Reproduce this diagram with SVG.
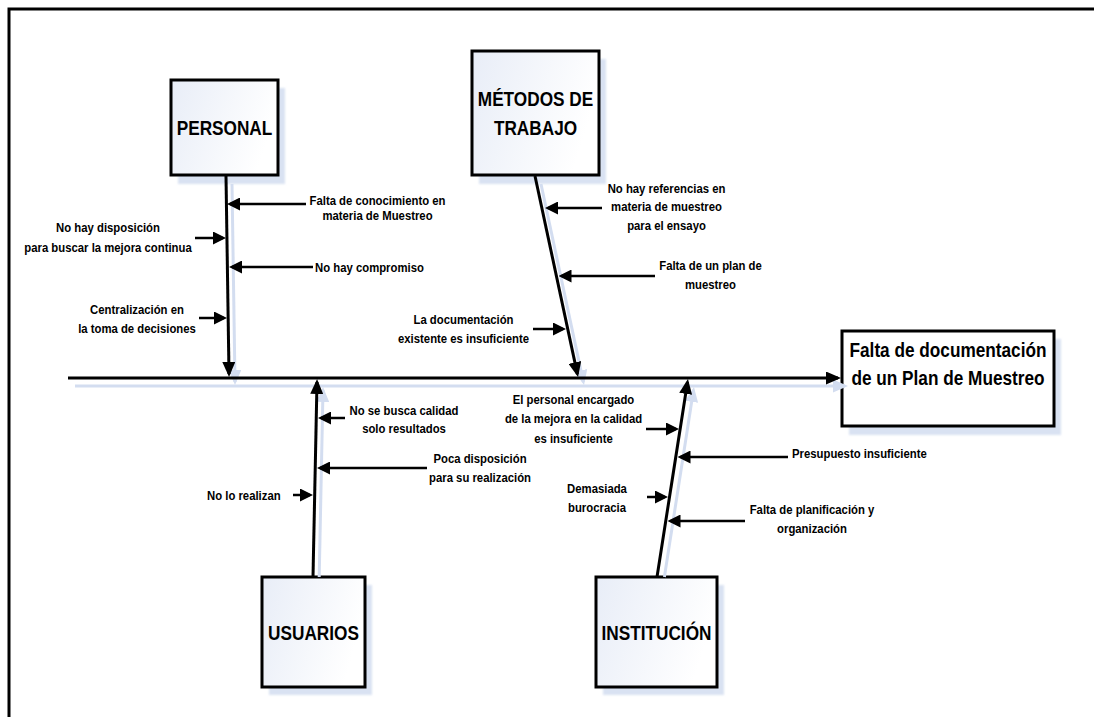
<svg xmlns="http://www.w3.org/2000/svg" width="1094" height="717" viewBox="0 0 1094 717">
  <defs>
    <style>
      .frame { fill: none; stroke: #000; stroke-width: 3; }
      .box { fill: url(#boxFill); stroke: #000; stroke-width: 3; }
      .boxw { fill: #fff; stroke: #000; stroke-width: 3; }
      .shadow { fill: #d9e2f2; filter: url(#soft); }
      .bone { fill: none; stroke: #000; stroke-width: 3; marker-end: url(#headBig); }
      .bone-sh { fill: none; stroke: #d3ddf0; stroke-width: 3; marker-end: url(#headBigSh); }
      .cause { fill: none; stroke: #000; stroke-width: 2.5; marker-end: url(#head); }
      .lbl { font-family: "Liberation Sans", Arial, sans-serif; font-weight: bold; font-size: 13.5px; fill: #000; }
      .ttl { font-family: "Liberation Sans", Arial, sans-serif; font-weight: bold; font-size: 21px; fill: #000; text-anchor: middle; }
      .mid { text-anchor: middle; }
    </style>
    <linearGradient id="boxFill" x1="0" y1="0" x2="1" y2="0.3">
      <stop offset="0" stop-color="#e8edf7"/>
      <stop offset="1" stop-color="#ffffff"/>
    </linearGradient>
    <filter id="soft" x="-10%" y="-10%" width="120%" height="120%">
      <feGaussianBlur stdDeviation="0.8"/>
    </filter>
    <marker id="head" viewBox="0 0 13 13" markerUnits="userSpaceOnUse" markerWidth="13" markerHeight="13" refX="10" refY="6.5" orient="auto">
      <path d="M0,0 L13,6.5 L0,13 z" fill="#000"/>
    </marker>
    <marker id="headBig" viewBox="0 0 15 13" markerUnits="userSpaceOnUse" markerWidth="15" markerHeight="13" refX="12" refY="6.5" orient="auto">
      <path d="M0,0 L15,6.5 L0,13 z" fill="#000"/>
    </marker>
    <marker id="headBigSh" viewBox="0 0 15 13" markerUnits="userSpaceOnUse" markerWidth="15" markerHeight="13" refX="12" refY="6.5" orient="auto">
      <path d="M0,0 L15,6.5 L0,13 z" fill="#d3ddf0"/>
    </marker>
  </defs>

  <rect width="1094" height="717" fill="#fff"/>

  <!-- page frame: top and left edges only -->
  <path class="frame" d="M9,717 V9 H1094"/>

  <!-- category and effect boxes -->
  <g id="personal">
    <rect class="shadow" x="178" y="88" width="107" height="96"/>
    <rect class="box" x="171" y="80" width="107" height="95"/>
    <text class="ttl" transform="translate(224.5,135) scale(0.82,1)">PERSONAL</text>
  </g>

  <g id="metodos">
    <rect class="shadow" x="479" y="59" width="127" height="125"/>
    <rect class="box" x="472" y="51" width="127" height="124"/>
    <text class="ttl" transform="translate(535.5,106) scale(0.82,1)"><tspan x="0">MÉTODOS DE</tspan><tspan x="0" dy="29">TRABAJO</tspan></text>
  </g>

  <g id="usuarios">
    <rect class="shadow" x="269" y="585" width="103" height="110"/>
    <rect class="box" x="262" y="577" width="103" height="110"/>
    <text class="ttl" transform="translate(313.5,640) scale(0.82,1)">USUARIOS</text>
  </g>

  <g id="institucion">
    <rect class="shadow" x="603" y="585" width="121" height="110"/>
    <rect class="box" x="596" y="577" width="121" height="110"/>
    <text class="ttl" transform="translate(656.5,640) scale(0.82,1)">INSTITUCIÓN</text>
  </g>

  <g id="efecto">
    <rect class="shadow" x="849" y="339" width="212" height="96"/>
    <rect class="boxw" x="842" y="331" width="212" height="95"/>
    <text class="ttl" transform="translate(948,357) scale(0.82,1)"><tspan x="0">Falta de documentación</tspan><tspan x="0" dy="28">de un Plan de Muestreo</tspan></text>
  </g>

  <!-- spine, main bones and cause arrows -->
  <g id="connectors">
    <!-- soft offset copies of the spine and bones -->
    <path class="bone-sh" d="M75,386 H845"/>
    <path class="bone-sh" d="M232,184 L235,382"/>
    <path class="bone-sh" d="M541,184 L583.4,382.1"/>
    <path class="bone-sh" d="M319.2,577 L323,390"/>
    <path class="bone-sh" d="M664.4,577 L693.5,390"/>

    <!-- spine -->
    <path class="bone" d="M68,378 H838"/>
    <!-- bones -->
    <path class="bone" d="M226,176 L229,374"/>
    <path class="bone" d="M535,176 L577.4,374.1"/>
    <path class="bone" d="M313,577 L317,382"/>
    <path class="bone" d="M657,577 L687.5,382"/>

    <!-- causes: personal -->
    <path class="cause" d="M306,204 H230"/>
    <path class="cause" d="M195,238 H223"/>
    <path class="cause" d="M313,267 H232"/>
    <path class="cause" d="M199,318 H224"/>
    <!-- causes: metodos -->
    <path class="cause" d="M602,208 H548"/>
    <path class="cause" d="M655,276 H561.5"/>
    <path class="cause" d="M533,329 H563"/>
    <!-- causes: usuarios -->
    <path class="cause" d="M345,418 H321"/>
    <path class="cause" d="M427,468 H320"/>
    <path class="cause" d="M293,495 H310"/>
    <!-- causes: institucion -->
    <path class="cause" d="M646,429 H676"/>
    <path class="cause" d="M788,457 H680.5"/>
    <path class="cause" d="M647,497 H665"/>
    <path class="cause" d="M745,521 H670.5"/>
  </g>

  <!-- cause labels -->
  <g id="labels">
    <text class="lbl mid" transform="translate(377.5,205) scale(0.84,1)"><tspan x="0">Falta de conocimiento en</tspan><tspan x="0" dy="15">materia de Muestreo</tspan></text>
    <text class="lbl mid" transform="translate(108,232) scale(0.84,1)"><tspan x="0">No hay disposición</tspan><tspan x="0" dy="20">para buscar la mejora continua</tspan></text>
    <text class="lbl" transform="translate(315,272) scale(0.84,1)">No hay compromiso</text>
    <text class="lbl mid" transform="translate(137,314) scale(0.84,1)"><tspan x="0">Centralización en</tspan><tspan x="0" dy="19">la toma de decisiones</tspan></text>

    <text class="lbl mid" transform="translate(666.5,193) scale(0.84,1)"><tspan x="0">No hay referencias en</tspan><tspan x="0" dy="18.5">materia de muestreo</tspan><tspan x="0" dy="18.5">para el ensayo</tspan></text>
    <text class="lbl mid" transform="translate(710.5,270) scale(0.84,1)"><tspan x="0">Falta de un plan de</tspan><tspan x="0" dy="19">muestreo</tspan></text>
    <text class="lbl mid" transform="translate(463.5,324) scale(0.84,1)"><tspan x="0">La documentación</tspan><tspan x="0" dy="19">existente es insuficiente</tspan></text>

    <text class="lbl mid" transform="translate(404,414.5) scale(0.84,1)"><tspan x="0">No se busca calidad</tspan><tspan x="0" dy="18.5">solo resultados</tspan></text>
    <text class="lbl mid" transform="translate(480,463) scale(0.84,1)"><tspan x="0">Poca disposición</tspan><tspan x="0" dy="19">para su realización</tspan></text>
    <text class="lbl" transform="translate(207,500) scale(0.84,1)">No lo realizan</text>

    <text class="lbl mid" transform="translate(573.5,404) scale(0.84,1)"><tspan x="0">El personal encargado</tspan><tspan x="0" dy="19.5">de la mejora en la calidad</tspan><tspan x="0" dy="19.5">es insuficiente</tspan></text>
    <text class="lbl" transform="translate(792,458) scale(0.84,1)">Presupuesto insuficiente</text>
    <text class="lbl mid" transform="translate(597,493) scale(0.84,1)"><tspan x="0">Demasiada</tspan><tspan x="0" dy="19">burocracia</tspan></text>
    <text class="lbl mid" transform="translate(812,514) scale(0.84,1)"><tspan x="0">Falta de planificación y</tspan><tspan x="0" dy="19">organización</tspan></text>
  </g>
</svg>
